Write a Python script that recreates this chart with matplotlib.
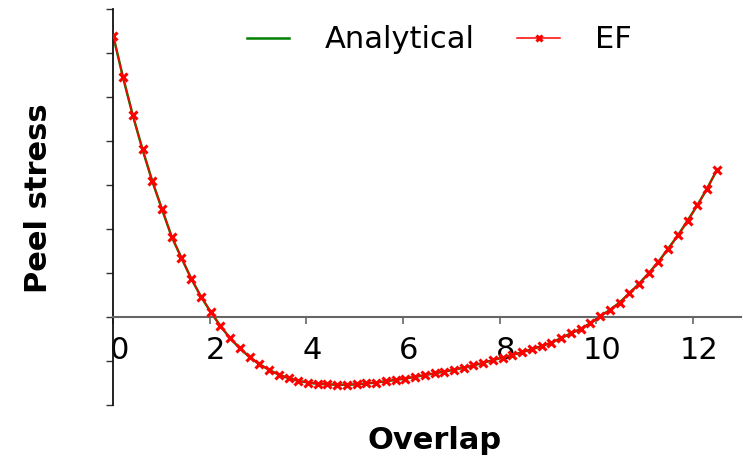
import numpy as np
import matplotlib
matplotlib.use("Agg")
import matplotlib.pyplot as plt
from matplotlib.transforms import ScaledTranslation

# Overlap positions (63 stations along the joint, 0 .. 12.5)
overlap = np.linspace(0.0, 12.5, 63)

# Peel stress along the overlap (arbitrary units)
peel_ef = [
    6.39, 5.45, 4.59, 3.81, 3.09, 2.45, 1.82, 1.34, 0.87, 0.46,
    0.11, -0.21, -0.49, -0.72, -0.92, -1.08, -1.21, -1.32, -1.40, -1.46,
    -1.50, -1.53, -1.54, -1.55, -1.55, -1.54, -1.52, -1.50, -1.47, -1.44,
    -1.41, -1.37, -1.33, -1.29, -1.25, -1.21, -1.16, -1.11, -1.05, -0.99,
    -0.93, -0.87, -0.81, -0.74, -0.67, -0.59, -0.49, -0.38, -0.28, -0.15,
    0.01, 0.15, 0.32, 0.53, 0.75, 0.99, 1.25, 1.55, 1.85, 2.19,
    2.54, 2.92, 3.34,
]
peel_analytical = list(peel_ef)

xticks = [0, 2, 4, 6, 8, 10, 12]
yticks = list(range(-2, 8))

fig = plt.figure(figsize=(7.43, 4.57), dpi=100)
ax = fig.add_axes([113.3 / 743, 1 - 404.5 / 457, (741 - 113.3) / 743, (404.5 - 9.4) / 457])

ax.plot(overlap, peel_analytical, color="green", lw=1.8, label="Analytical", zorder=2)
ax.plot(overlap, peel_ef, color="red", lw=1.1, marker="x", markersize=5.5,
        markeredgewidth=2.2, label="EF", zorder=3)

ax.set_xlim(0, 13)
ax.set_ylim(-2, 7)

ax.spines["top"].set_visible(False)
ax.spines["right"].set_visible(False)
ax.spines["bottom"].set_position(("data", 0))
ax.spines["bottom"].set_color("#666666")
ax.spines["bottom"].set_linewidth(1.5)
ax.spines["left"].set_color("#111111")
ax.spines["left"].set_linewidth(1.3)

ax.set_xticks(xticks)
ax.set_xticklabels([str(t) for t in xticks])
ax.set_yticks(yticks)
ax.set_yticklabels([])
ax.tick_params(axis="x", direction="out", length=5, width=1.2, color="#666666",
               labelsize=22, pad=9)
ax.tick_params(axis="y", direction="out", length=5, width=1.0, color="#333333")

shift = ScaledTranslation(6 / 100, 0, fig.dpi_scale_trans)
for lab in ax.get_xticklabels():
    lab.set_transform(lab.get_transform() + shift)

fig.text(435 / 743, 1 - 449 / 457, "Overlap", fontsize=22, fontweight="bold",
         ha="center", va="baseline")
fig.text(46.7 / 743, 1 - 198.3 / 457, "Peel stress", fontsize=22, fontweight="bold",
         rotation=90, rotation_mode="anchor", ha="center", va="baseline")

leg = ax.legend(loc="center left", bbox_to_anchor=(246.7 / 743, 1 - 40 / 457),
                bbox_transform=fig.transFigure, ncol=2, frameon=False, fontsize=22,
                handlelength=1.4, handletextpad=1.15, columnspacing=1.4,
                borderpad=0, borderaxespad=0, markerscale=0.75)

fig.savefig("out.png", dpi=100)
